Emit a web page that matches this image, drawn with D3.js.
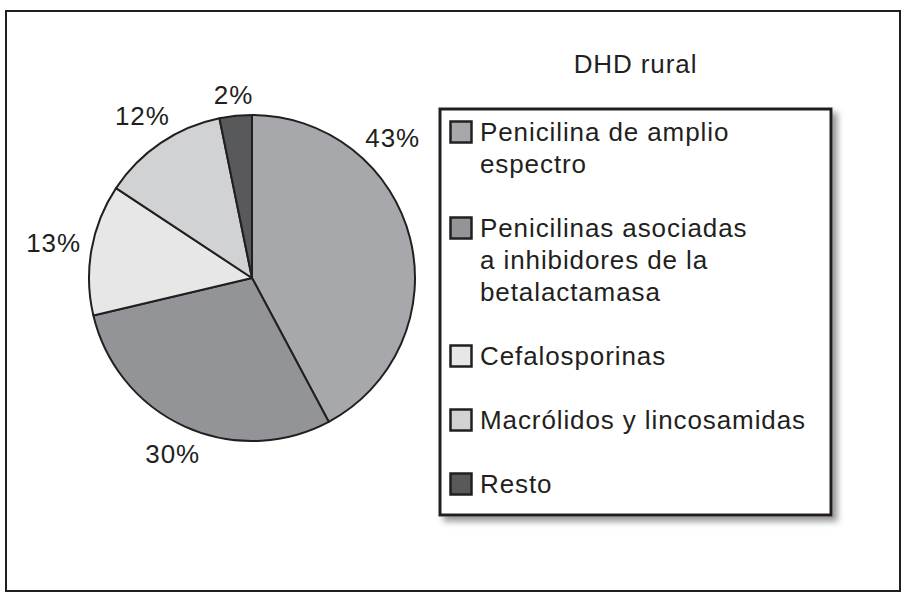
<!DOCTYPE html>
<html>
<head>
<meta charset="utf-8">
<script src="https://cdn.jsdelivr.net/npm/d3@7"></script>
<style>
  body { margin: 0; background: #fff; }
  text { font-family: "Liberation Sans", Arial, Helvetica, sans-serif; fill: #231f20; letter-spacing: 0.9px; }
</style>
</head>
<body>
<script>
// data
var categories = ["Penicilina de amplio espectro",
                  "Penicilinas asociadas a inhibidores de la betalactamasa",
                  "Cefalosporinas",
                  "Macrólidos y lincosamidas",
                  "Resto"];
var values = [42.2, 29.1, 13.0, 12.5, 3.2];
var pctLabels = ["43%", "30%", "13%", "12%", "2%"];
var legendLines = [["Penicilina de amplio", "espectro"],
                   ["Penicilinas asociadas", "a inhibidores de la", "betalactamasa"],
                   ["Cefalosporinas"],
                   ["Macrólidos y lincosamidas"],
                   ["Resto"]];
var colors = ["#a7a8ab", "#939497", "#e7e7e8", "#d1d2d4", "#58595b"];
var title = "DHD rural";

var w = 912;
var h = 596;
var r = 163;
var cx = 252, cy = 278;
var lineH = 32;
var fontSize = 26;

var svg = d3.select("body")
            .append("svg")
            .attr("width", w)
            .attr("height", h);

var defs = svg.append("defs");
var shadow = defs.append("filter")
                 .attr("id", "shadow")
                 .attr("x", "-10%").attr("y", "-10%")
                 .attr("width", "120%").attr("height", "120%");
shadow.append("feDropShadow")
      .attr("dx", 5).attr("dy", 5)
      .attr("stdDeviation", 3)
      .attr("flood-color", "#8a8b8d")
      .attr("flood-opacity", 0.9);

var color = d3.scaleOrdinal().domain(categories).range(colors);

// outer frame
svg.append("rect")
   .attr("x", 6).attr("y", 11)
   .attr("width", 894).attr("height", 580)
   .attr("fill", "none")
   .attr("stroke", "#231f20")
   .attr("stroke-width", 2);

// pie
var pie = d3.pie().sort(null).value(function(d) { return d; });
var arcs = pie(values);
var arc = d3.arc().innerRadius(0).outerRadius(r);

var g = svg.append("g").attr("transform", "translate(" + cx + "," + cy + ")");

g.selectAll(".slice")
 .data(arcs)
 .enter()
 .append("path")
 .attr("class", "slice")
 .attr("d", arc)
 .attr("fill", function(d, i) { return color(categories[i]); })
 .attr("stroke", "#231f20")
 .attr("stroke-width", 2)
 .attr("stroke-linejoin", "round");

// labels: mid angle, but the big slice gets its label up in its first quarter
function labelAngle(d) {
  if (d.endAngle - d.startAngle > Math.PI * 0.8) {
    return d.startAngle + Math.PI / 4;
  }
  return (d.startAngle + d.endAngle) / 2;
}
var gap = 10;

var pct = g.selectAll(".pct")
 .data(arcs)
 .enter()
 .append("text")
 .attr("class", "pct")
 .attr("text-anchor", "middle")
 .attr("font-size", fontSize)
 .text(function(d, i) { return pctLabels[i]; });

// push each label out until its box clears the circle by the gap
pct.each(function(d) {
  var bb = this.getBBox();
  var a = labelAngle(d);
  var hw = bb.width / 2, hh = fontSize * 0.36;
  var dist = r + gap + Math.abs(Math.sin(a)) * hw + Math.abs(Math.cos(a)) * hh;
  d3.select(this)
    .attr("x", dist * Math.sin(a))
    .attr("y", -dist * Math.cos(a) + hh);
});

// legend
var lx = 440, ly = 109, lw = 391, lh = 406;

svg.append("text")
   .attr("x", lx + lw / 2)
   .attr("y", 73)
   .attr("text-anchor", "middle")
   .attr("font-size", fontSize)
   .text(title);

svg.append("rect")
   .attr("x", lx).attr("y", ly)
   .attr("width", lw).attr("height", lh)
   .attr("fill", "#fff")
   .attr("stroke", "#231f20")
   .attr("stroke-width", 3)
   .attr("filter", "url(#shadow)");

// each item starts one blank line after the previous one
var startLine = [];
var k = 0;
legendLines.forEach(function(lines) {
  startLine.push(k);
  k += lines.length + 1;
});

var items = svg.selectAll(".item")
   .data(categories)
   .enter()
   .append("g")
   .attr("class", "item")
   .attr("transform", function(d, i) {
     return "translate(0," + (141 + startLine[i] * lineH) + ")";
   });

items.append("rect")
     .attr("x", 450.5).attr("y", -19.5)
     .attr("width", 21).attr("height", 21)
     .attr("fill", function(d) { return color(d); })
     .attr("stroke", "#231f20")
     .attr("stroke-width", 2.5);

items.append("text")
     .attr("font-size", fontSize)
     .selectAll("tspan")
     .data(function(d, i) { return legendLines[i]; })
     .enter()
     .append("tspan")
     .attr("x", 480)
     .attr("y", function(d, j) { return j * lineH; })
     .text(function(d) { return d; });
</script>
</body>
</html>
